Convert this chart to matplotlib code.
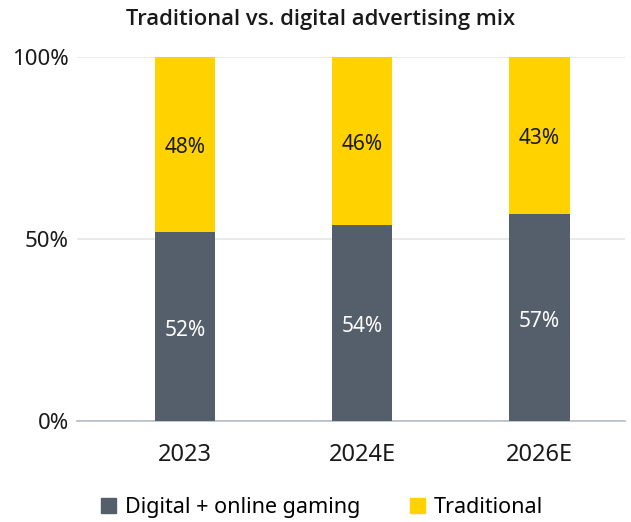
import matplotlib.pyplot as plt
from matplotlib.patches import Patch

plt.rcParams['font.family'] = ['Noto Sans', 'DejaVu Sans']

years = ["2023", "2024E", "2026E"]
digital = [52, 54, 57]
traditional = [48, 46, 43]

gray = "#555f6b"
yellow = "#ffd200"

fig = plt.figure(figsize=(6.31, 5.22), dpi=100)
ax = fig.add_axes([0.122, 0.193, 0.868, 0.698])

x = range(len(years))
ax.bar(x, digital, width=0.34, color=gray, zorder=3)
ax.bar(x, traditional, width=0.34, bottom=digital, color=yellow, zorder=3)

for i in x:
    ax.text(i, digital[i] / 2 - 1, f"{digital[i]}%", ha="center", va="center",
            color="white", fontsize=15)
    ax.text(i, digital[i] + traditional[i] / 2 - 1, f"{traditional[i]}%",
            ha="center", va="center", color="#1a1a1a", fontsize=15)

ax.set_xlim(-0.61, 2.48)
ax.set_ylim(0, 100)
ax.set_yticks([0, 50, 100])
ax.set_yticklabels(["0%", "50%", "100%"])
ax.set_xticks(list(x))
ax.set_xticklabels(years)
ax.tick_params(axis="both", length=0, colors="#1a1a1a")
ax.tick_params(axis="y", pad=6, labelsize=16)
ax.tick_params(axis="x", pad=16, labelsize=17)
ax.yaxis.grid(True, color="#e6e6e6", linewidth=1.2, zorder=0)
for s in ["top", "right", "left"]:
    ax.spines[s].set_visible(False)
ax.spines["bottom"].set_color("#b4bcc4")
ax.spines["bottom"].set_linewidth(1.2)

fig.text(0.508, 0.963, "Traditional vs. digital advertising mix", ha="center",
         va="center", fontsize=15.8, fontweight="semibold", color="#1a1a1a",
         family=["Open Sans", "DejaVu Sans"])

handles = [Patch(color=gray, label="Digital + online gaming"),
           Patch(color=yellow, label="Traditional")]
fig.legend(handles=handles, loc="center", bbox_to_anchor=(0.51, 0.027),
           ncol=2, frameon=False, fontsize=15.5, handlelength=0.7,
           handleheight=0.7, handletextpad=0.4, columnspacing=2.3)

fig.savefig("out.png", dpi=100)
